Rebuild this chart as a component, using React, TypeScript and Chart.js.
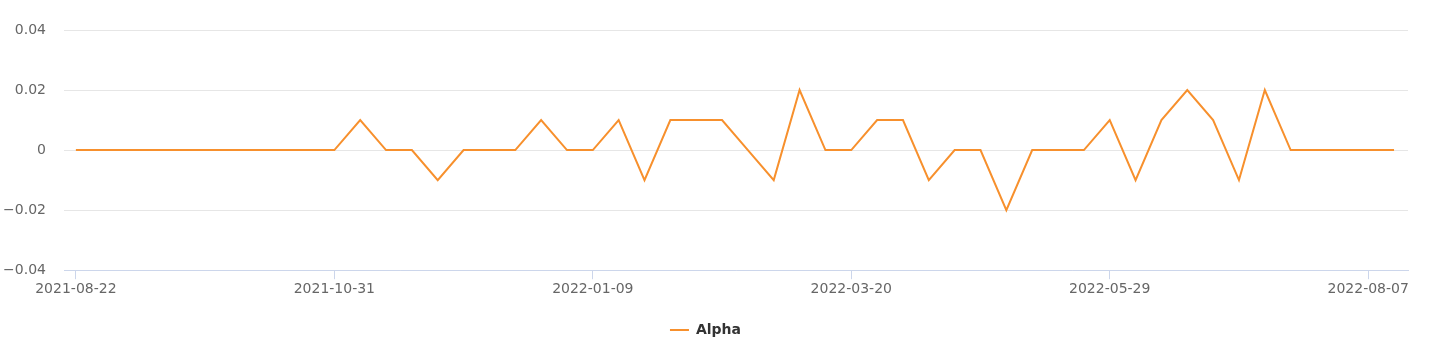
import React, { useEffect, useRef } from "react";
import { Chart, registerables } from "chart.js";

Chart.register(...registerables);

const dates: string[] = [
  "2021-08-22", "2021-08-29", "2021-09-05", "2021-09-12", "2021-09-19", "2021-09-26",
  "2021-10-03", "2021-10-10", "2021-10-17", "2021-10-24", "2021-10-31", "2021-11-07",
  "2021-11-14", "2021-11-21", "2021-11-28", "2021-12-05", "2021-12-12", "2021-12-19",
  "2021-12-26", "2022-01-02", "2022-01-09", "2022-01-16", "2022-01-23", "2022-01-30",
  "2022-02-06", "2022-02-13", "2022-02-20", "2022-02-27", "2022-03-06", "2022-03-13",
  "2022-03-20", "2022-03-27", "2022-04-03", "2022-04-10", "2022-04-17", "2022-04-24",
  "2022-05-01", "2022-05-08", "2022-05-15", "2022-05-22", "2022-05-29", "2022-06-05",
  "2022-06-12", "2022-06-19", "2022-06-26", "2022-07-03", "2022-07-10", "2022-07-17",
  "2022-07-24", "2022-07-31", "2022-08-07", "2022-08-14",
];

const alpha: number[] = [
  0, 0, 0, 0, 0, 0, 0, 0, 0, 0, 0,
  0.01, 0, 0, -0.01, 0, 0, 0, 0.01, 0, 0,
  0.01, -0.01, 0.01, 0.01, 0.01, 0, -0.01, 0.02, 0, 0,
  0.01, 0.01, -0.01, 0, 0, -0.02, 0, 0, 0, 0.01,
  -0.01, 0.01, 0.02, 0.01, -0.01, 0.02, 0, 0, 0, 0, 0,
];

const xTickIndices: number[] = [0, 10, 20, 30, 40, 50];
const yTicks: number[] = [-0.04, -0.02, 0, 0.02, 0.04];

const seriesName = "Alpha";
const lineColor = "#f7902d";

export default function App() {
  const canvasRef = useRef<HTMLCanvasElement | null>(null);

  useEffect(() => {
    if (!canvasRef.current) return;
    Chart.defaults.font.family = "'DejaVu Sans', sans-serif";
    const chart = new Chart(canvasRef.current, {
      type: "line",
      data: {
        datasets: [
          {
            label: seriesName,
            data: alpha.map((v, i) => ({ x: i, y: v })),
            borderColor: lineColor,
            backgroundColor: lineColor,
            borderWidth: 2,
            pointRadius: 0,
            pointHoverRadius: 0,
            tension: 0,
          },
        ],
      },
      options: {
        animation: false,
        responsive: true,
        maintainAspectRatio: false,
        layout: { padding: { left: 3, right: 25, top: 30, bottom: 4 } },
        plugins: {
          tooltip: { enabled: false },
          legend: {
            position: "bottom",
            labels: {
              boxWidth: 19,
              boxHeight: 2,
              color: "#333333",
              font: { size: 14, weight: "bold" },
              padding: 12,
              generateLabels: (c: any) =>
                c.data.datasets.map((d: any, i: number) => ({
                  text: d.label,
                  fillStyle: lineColor,
                  strokeStyle: lineColor,
                  lineWidth: 0,
                  hidden: false,
                  datasetIndex: i,
                  fontColor: "#333333",
                })),
            },
          },
        },
        scales: {
          x: {
            type: "linear",
            min: -0.46,
            max: 51.54,
            afterBuildTicks: (scale: any) => {
              scale.ticks = xTickIndices.map((v) => ({ value: v }));
            },
            afterFit: (scale: any) => {
              scale.height = scale.height + 11;
            },
            ticks: {
              autoSkip: false,
              maxRotation: 0,
              minRotation: 0,
              color: "#666666",
              font: { size: 14 },
              padding: 2,
              callback: (value: any) => dates[Math.round(Number(value))] ?? "",
            },
            grid: {
              drawOnChartArea: false,
              drawTicks: true,
              tickLength: 9,
              color: "#ccd6eb",
            },
            border: { display: true, color: "#ccd6eb", width: 1 },
          },
          y: {
            min: -0.04,
            max: 0.04,
            afterBuildTicks: (scale: any) => {
              scale.ticks = yTicks.map((v) => ({ value: v }));
            },
            afterFit: (scale: any) => {
              scale.width = 61;
            },
            ticks: {
              color: "#666666",
              font: { size: 14 },
              padding: 18,
              callback: (value: any) => {
                const n = Number(value);
                if (Math.abs(n) < 1e-9) return "0";
                const s = Math.abs(n).toFixed(2);
                return n < 0 ? "\u2212" + s : s;
              },
            },
            grid: {
              color: "#e6e6e6",
              drawTicks: false,
              lineWidth: 1,
            },
            border: { display: false },
          },
        },
      },
    } as any);
    return () => chart.destroy();
  }, []);

  return (
    <div style={{ position: "absolute", left: 0, top: 0, width: 1433, height: 351 }}>
      <canvas ref={canvasRef} />
    </div>
  );
}
